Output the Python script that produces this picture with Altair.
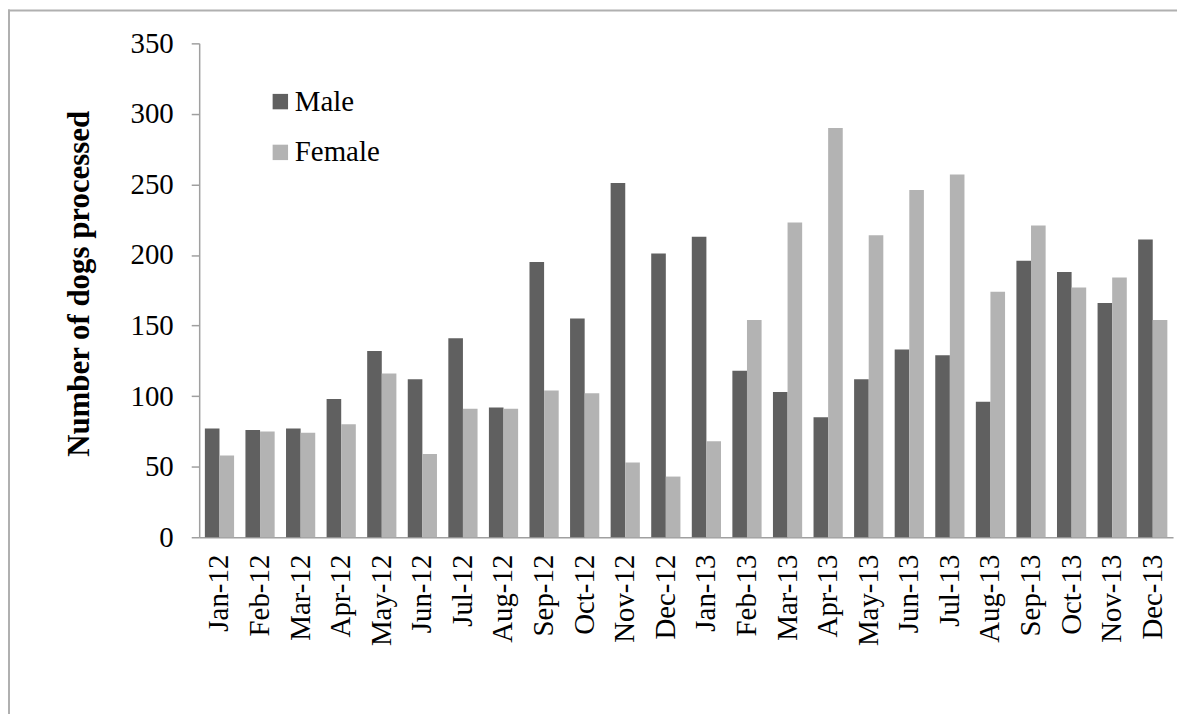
import altair as alt
import pandas as pd

months = ["Jan-12", "Feb-12", "Mar-12", "Apr-12", "May-12", "Jun-12", "Jul-12", "Aug-12",
          "Sep-12", "Oct-12", "Nov-12", "Dec-12", "Jan-13", "Feb-13", "Mar-13", "Apr-13",
          "May-13", "Jun-13", "Jul-13", "Aug-13", "Sep-13", "Oct-13", "Nov-13", "Dec-13"]
male = [77, 76, 77, 98, 132, 112, 141, 92, 195, 155, 251, 201,
        213, 118, 103, 85, 112, 133, 129, 96, 196, 188, 166, 211]
female = [58, 75, 74, 80, 116, 59, 91, 91, 104, 102, 53, 43,
          68, 154, 223, 290, 214, 246, 257, 174, 221, 177, 184, 154]
series = ["Male", "Female"]
colors = ["#606060", "#b3b3b3"]

rows = []
for m, a, b in zip(months, male, female):
    rows.append({"month": m, "sex": "Male", "value": a})
    rows.append({"month": m, "sex": "Female", "value": b})
df = pd.DataFrame(rows)

FONT = "Liberation Serif"

bars = alt.Chart(df).mark_bar().encode(
    x=alt.X("month:N", sort=months,
            scale=alt.Scale(paddingInner=0.28, paddingOuter=0.14),
            axis=alt.Axis(title=None, labelAngle=-90, labelFontSize=29, labelFont=FONT,
                          labelColor="#000000", labelPadding=17, ticks=False,
                          domainColor="#a0a0a0", domainWidth=1.5, labelAlign="right",
                          labelBaseline="middle")),
    xOffset=alt.XOffset("sex:N", sort=series, scale=alt.Scale(paddingInner=0, paddingOuter=0)),
    y=alt.Y("value:Q", scale=alt.Scale(domain=[0, 350], nice=False),
            axis=alt.Axis(title="Number of dogs processed", values=[0, 50, 100, 150, 200, 250, 300, 350],
                          grid=False, labelFontSize=29, labelFont=FONT, labelColor="#000000",
                          labelPadding=18, tickSize=8, tickColor="#a0a0a0", tickWidth=1.5,
                          domainColor="#a0a0a0", domainWidth=1.5,
                          titleFont=FONT, titleFontSize=31, titleFontWeight="bold",
                          titleColor="#000000", titleX=-104, titleY=241, titleAngle=-90,
                          titleBaseline="bottom", titleAlign="center")),
    color=alt.Color("sex:N", sort=series,
                    scale=alt.Scale(domain=series, range=colors),
                    legend=alt.Legend(title=None, orient="none", legendX=67, legendY=44,
                                      symbolType="square", symbolSize=240, symbolStrokeWidth=0,
                                      labelFont=FONT, labelFontSize=29, labelColor="#000000",
                                      rowPadding=21, labelOffset=0)),
)

frame_df = pd.DataFrame({"a": [0]})
top_line = alt.Chart(frame_df).mark_rule(color="#b0b0b0", strokeWidth=2).encode(
    x=alt.value(-192), x2=alt.value(982), y=alt.value(-33))
left_line = alt.Chart(frame_df).mark_rule(color="#b0b0b0", strokeWidth=2).encode(
    x=alt.value(-191), y=alt.value(-34), y2=alt.value(700))

chart = alt.layer(bars, top_line, left_line).properties(
    width=978, height=496,
    autosize=alt.AutoSizeParams(type="none"),
    padding={"left": 192, "top": 34, "right": 10, "bottom": 176},
).configure_view(stroke=None)

chart.save("out.html", embed_options={"renderer": "svg", "actions": False})
